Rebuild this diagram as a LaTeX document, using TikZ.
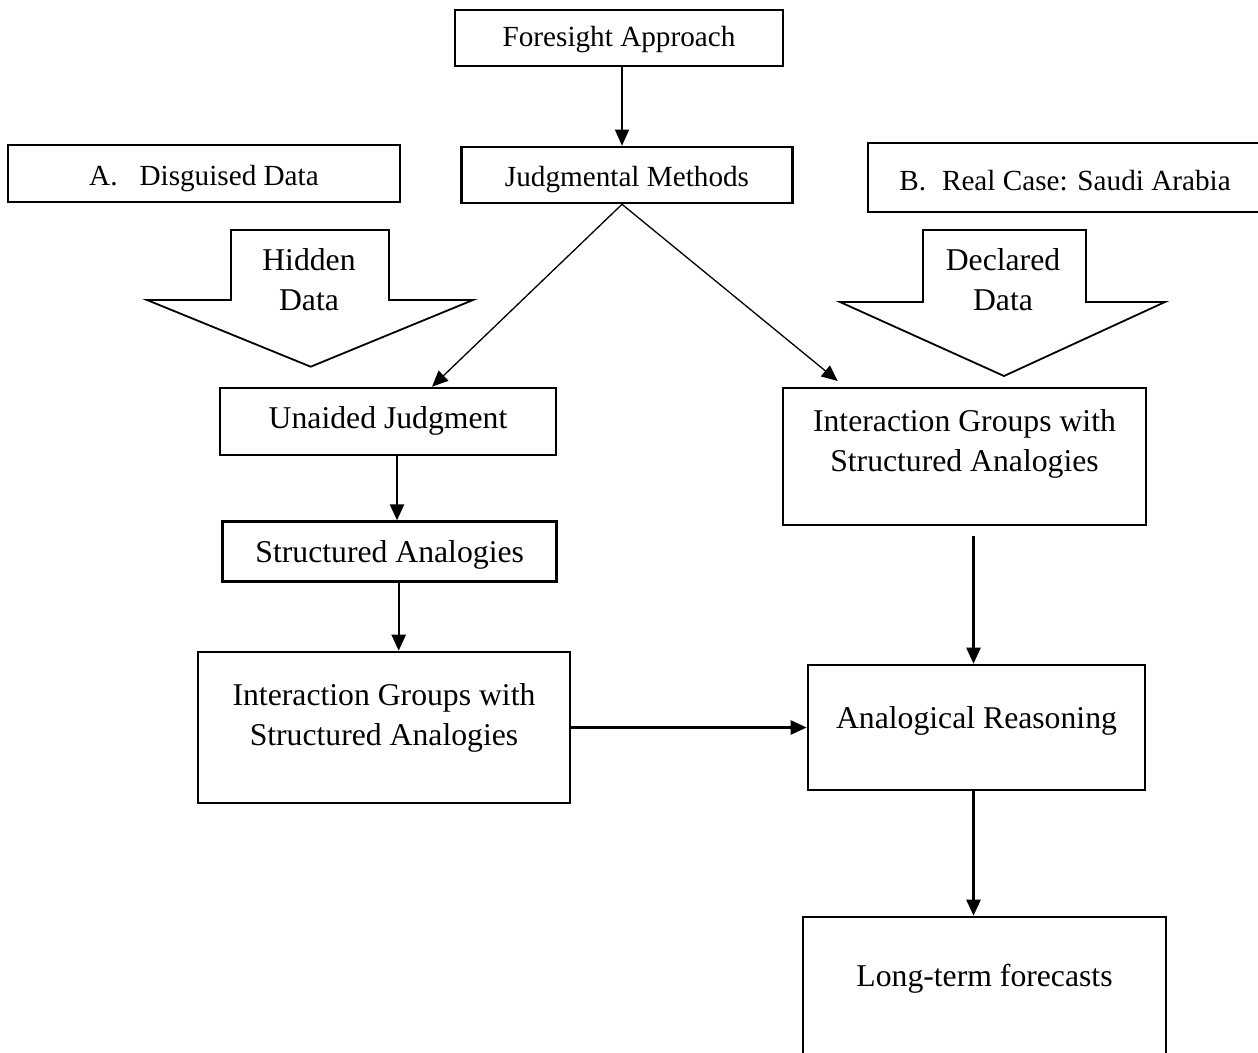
\documentclass[tikz,border=0pt]{standalone}
\usepackage{fontspec}
\setmainfont{Liberation Serif}
\usetikzlibrary{arrows.meta,calc}

\begin{document}
\begin{tikzpicture}[
		x=1pt,
		y=-1pt,
		bigtext/.style={font=\fontsize{31.7}{40}\selectfont},
		smalltext/.style={font=\fontsize{29.2}{35}\selectfont},
		box/.style={draw,line width=2.6pt,inner sep=0pt,anchor=base},
		bigarrow/.style={draw,line width=1.8pt,line join=miter},
		flow/.style={-{Triangle[length=16pt,width=14pt]},line width=2.4pt},
		link/.style={-{Triangle[length=16pt,width=14pt]},line width=1.3pt}
		]
		
		\useasboundingbox (0,0) rectangle (1258,1052);
		
		% =====================================================
		% Top: approach and methods
		% =====================================================
		\node[box,smalltext,minimum width=328pt,text height=36pt,text depth=20pt] (fa) at (619,46)
		{Foresight Approach};
		
		\node[box,smalltext,minimum width=331pt,text height=39pt,text depth=17pt] (jm) at (627,186)
		{Judgmental Methods};
		
		\node[box,smalltext,minimum width=392pt,text height=40pt,text depth=17pt] (da) at (204,185)
		{A.\hspace{22pt}Disguised Data\hspace{26pt}};
		
		\node[box,smalltext,minimum width=394pt,text height=47pt,text depth=22pt] (rc) at (1065,190)
		{B.\hspace{16pt}Real Case: Saudi Arabia};
		
		% =====================================================
		% Data arrows
		% =====================================================
		\draw[bigarrow] (231,230) -- (389,230) -- (389,300) -- (473,300)
		-- (310.7,366.7) -- (147,300) -- (231,300) -- cycle;
		\node[bigtext,anchor=base] (hd) at (309,270)
		{\begin{tabular}[t]{@{}c@{}}Hidden\\Data\end{tabular}};
		
		\draw[bigarrow] (923,230) -- (1086,230) -- (1086,302) -- (1165,302)
		-- (1004,376) -- (840,302) -- (923,302) -- cycle;
		\node[bigtext,anchor=base] (dd) at (1003,270)
		{\begin{tabular}[t]{@{}c@{}}Declared\\Data\end{tabular}};
		
		% =====================================================
		% Left branch (A)
		% =====================================================
		\node[box,bigtext,minimum width=336pt,text height=40pt,text depth=27pt] (ua) at (388,428)
		{Unaided Judgment};
		
		\node[box,bigtext,minimum width=334pt,text height=41pt,text depth=19pt] (sa) at (389.7,562.7)
		{Structured Analogies};
		
		\node[box,bigtext,minimum width=372pt,text height=53pt,text depth=98pt] (igL) at (384,705)
		{\begin{tabular}[t]{@{}c@{}}Interaction Groups with\\Structured Analogies\end{tabular}};
		
		% =====================================================
		% Right branch (B)
		% =====================================================
		\node[box,bigtext,minimum width=363pt,text height=43pt,text depth=94pt] (igR) at (964.5,431)
		{\begin{tabular}[t]{@{}c@{}}Interaction Groups with\\Structured Analogies\end{tabular}};
		
		\node[box,bigtext,minimum width=337pt,text height=63pt,text depth=62pt] (ar) at (976.5,728)
		{Analogical Reasoning};
		
		\node[box,bigtext,minimum width=363pt,text height=69pt,text depth=76pt] (lt) at (984.5,986)
		{Long-term forecasts};
		
		% =====================================================
		% Connectors
		% =====================================================
		\draw[link] ([xshift=3pt]fa.south) -- ([xshift=3pt]fa.south |- jm.north);
		\draw[link] ([xshift=-5pt]jm.south) -- ([xshift=44pt]ua.north);
		\draw[link,shorten >=9pt] ([xshift=-5pt]jm.south) -- ([xshift=63pt]igR.north west);
		
		\draw[flow] ([xshift=9pt]ua.south) -- ([xshift=9pt]ua.south |- sa.north);
		\draw[flow] ([xshift=9pt]sa.south) -- ([xshift=9pt]sa.south |- igL.north);
		\draw[flow] (igL.east) -- (igL.east -| ar.west);
		
		\draw[flow,shorten <=10pt] ([xshift=-3pt]ar.north |- igR.south) -- ([xshift=-3pt]ar.north);
		\draw[flow] ([xshift=-3pt]ar.south) -- ([xshift=-3pt]ar.south |- lt.north);
		
	\end{tikzpicture}
\end{document}
